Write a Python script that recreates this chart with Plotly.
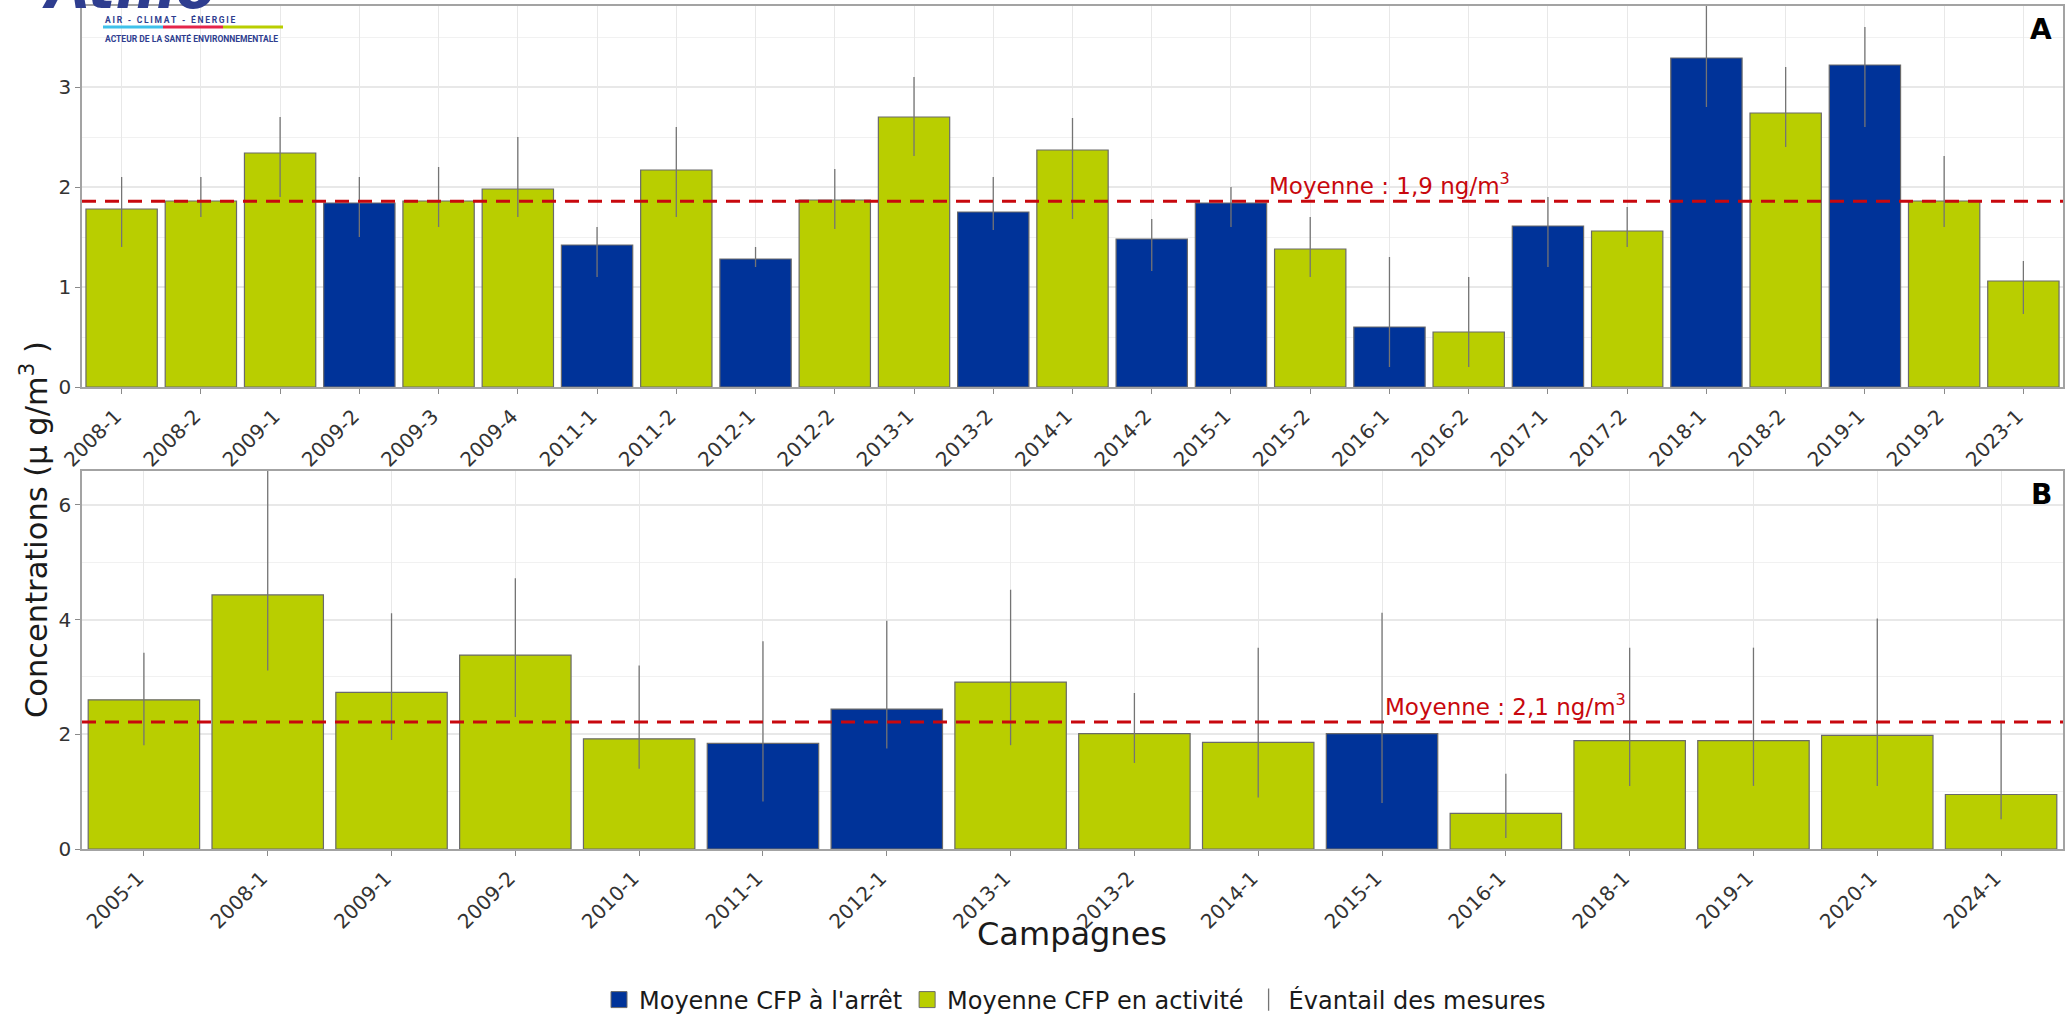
import numpy as np
import plotly.graph_objects as go

# ---- Panel A campaigns ----
campaigns_a = ["2008-1", "2008-2", "2009-1", "2009-2", "2009-3", "2009-4", "2011-1", "2011-2",
               "2012-1", "2012-2", "2013-1", "2013-2", "2014-1", "2014-2", "2015-1", "2015-2",
               "2016-1", "2016-2", "2017-1", "2017-2", "2018-1", "2018-2", "2019-1", "2019-2",
               "2023-1"]
status_a = ["activite", "activite", "activite", "arret", "activite", "activite", "arret", "activite",
            "arret", "activite", "activite", "arret", "activite", "arret", "arret", "activite",
            "arret", "activite", "arret", "activite", "arret", "activite", "arret", "activite",
            "activite"]
mean_a = [1.78, 1.86, 2.34, 1.84, 1.86, 1.98, 1.42, 2.17, 1.28, 1.87, 2.70, 1.75, 2.37,
          1.48, 1.84, 1.38, 0.60, 0.55, 1.61, 1.56, 3.29, 2.74, 3.22, 1.86, 1.06]
min_a = [1.40, 1.70, 1.90, 1.50, 1.60, 1.70, 1.10, 1.70, 1.20, 1.58, 2.31, 1.57, 1.68,
         1.16, 1.60, 1.10, 0.20, 0.20, 1.20, 1.40, 2.80, 2.40, 2.60, 1.60, 0.73]
max_a = [2.10, 2.10, 2.70, 2.10, 2.20, 2.50, 1.60, 2.60, 1.40, 2.18, 3.10, 2.10, 2.69,
         1.68, 2.00, 1.70, 1.30, 1.10, 1.90, 1.80, 3.90, 3.20, 3.60, 2.31, 1.26]

# ---- Panel B campaigns ----
campaigns_b = ["2005-1", "2008-1", "2009-1", "2009-2", "2010-1", "2011-1", "2012-1", "2013-1",
               "2013-2", "2014-1", "2015-1", "2016-1", "2018-1", "2019-1", "2020-1", "2024-1"]
status_b = ["activite", "activite", "activite", "activite", "activite", "arret", "arret", "activite",
            "activite", "activite", "arret", "activite", "activite", "activite", "activite", "activite"]
mean_b = [2.60, 4.43, 2.73, 3.38, 1.92, 1.84, 2.44, 2.91, 2.01, 1.86, 2.01, 0.62, 1.89, 1.89, 1.98, 0.95]
min_b = [1.81, 3.11, 1.90, 2.30, 1.40, 0.83, 1.75, 1.81, 1.50, 0.90, 0.80, 0.19, 1.10, 1.10, 1.10, 0.52]
max_b = [3.42, 6.80, 4.11, 4.72, 3.20, 3.62, 3.98, 4.52, 2.72, 3.51, 4.12, 1.31, 3.51, 3.51, 4.02, 2.22]

yticks_a = [0, 1, 2, 3]
yticks_b = [0, 2, 4, 6]
mean_label_a = "Moyenne : 1,9 ng/m<sup>3</sup>"
mean_label_b = "Moyenne : 2,1 ng/m<sup>3</sup>"

status_names = {"arret": "Moyenne CFP à l'arrêt", "activite": "Moyenne CFP en activité"}
range_name = "Évantail des mesures"

# ---- styling ----
W, H = 2071, 1017
FONT = "DejaVu Sans"
COL = {"arret": "#003399", "activite": "#B9CE00"}
BAR_EDGE = "#6a6a6a"
ERR_COL = "#747474"
MEAN_COL = "#C8080E"
GRID = "#e8e8e8"
GRID_MINOR = "#f1f1f1"
BORDER = "#a3a3a3"
TICK_TXT = "#333333"
LOGO = "#2E3D8F"


def px_x(p):
    return p / W


def px_y(p):
    return 1 - p / H


def spaced(text):
    # letter-spaced caption using thin spaces
    return "\u2009".join(text)


fig = go.Figure()


def add_panel(cats, status, means, lows, highs, xa, ya):
    fig.add_trace(go.Bar(
        x=cats, y=means, width=0.9,
        marker=dict(color=[COL[s] for s in status], line=dict(color=BAR_EDGE, width=1.2)),
        error_y=dict(type="data", symmetric=False,
                     array=[h - m for h, m in zip(highs, means)],
                     arrayminus=[m - l for m, l in zip(means, lows)],
                     width=0, color=ERR_COL, thickness=1.3),
        xaxis=xa, yaxis=ya, showlegend=False, hoverinfo="x+y",
    ))


add_panel(campaigns_a, status_a, mean_a, min_a, max_a, "x", "y")
add_panel(campaigns_b, status_b, mean_b, min_b, max_b, "x2", "y2")

# legend entries
for key in ["arret", "activite"]:
    fig.add_trace(go.Scatter(
        x=[None], y=[None], mode="markers", name=status_names[key],
        marker=dict(symbol="square", size=16, color=COL[key], line=dict(color=BAR_EDGE, width=1)),
        xaxis="x", yaxis="y",
    ))
fig.add_trace(go.Scatter(
    x=[None], y=[None], mode="markers", name=range_name,
    marker=dict(symbol="line-ns-open", size=16, color=ERR_COL, line=dict(width=1.3, color=ERR_COL)),
    xaxis="x", yaxis="y",
))

# overall means drawn as dashed lines
avg_a = float(np.mean(mean_a))
avg_b = float(np.mean(mean_b))
for avg, xa, ya in [(avg_a, "x", "y"), (avg_b, "x2", "y2")]:
    fig.add_shape(type="line", xref=f"{xa} domain", yref=ya, x0=0, x1=1, y0=avg, y1=avg,
                  line=dict(color=MEAN_COL, width=3, dash="14px,9px"), layer="above")

annotations = [
    dict(x="2016-1", y=avg_a, xref="x", yref="y", text=mean_label_a, showarrow=False,
         yanchor="bottom", yshift=0, font=dict(family=FONT, size=23, color=MEAN_COL)),
    dict(x="2016-1", y=avg_b, xref="x2", yref="y2", text=mean_label_b, showarrow=False,
         yanchor="bottom", yshift=0, font=dict(family=FONT, size=23, color=MEAN_COL)),
    dict(x=px_x(2054), y=px_y(11), xref="paper", yref="paper", text="<b>A</b>", showarrow=False,
         xanchor="right", yanchor="top", font=dict(family=FONT, size=28, color="#000000")),
    dict(x=px_x(2054), y=px_y(476), xref="paper", yref="paper", text="<b>B</b>", showarrow=False,
         xanchor="right", yanchor="top", font=dict(family=FONT, size=28, color="#000000")),
    dict(x=px_x(34), y=px_y(530), xref="paper", yref="paper",
         text="Concentrations (µ g/m<sup>3</sup> )", textangle=-90, showarrow=False,
         xanchor="center", yanchor="middle", font=dict(family=FONT, size=30.5, color="#1a1a1a")),
    dict(x=px_x(1072), y=px_y(934), xref="paper", yref="paper", text="Campagnes", showarrow=False,
         xanchor="center", yanchor="middle", font=dict(family=FONT, size=32, color="#1a1a1a")),
    # logo
    dict(x=px_x(40), y=px_y(24), xref="paper", yref="paper", text="<b><i>Atmo</i></b>",
         showarrow=False, xanchor="left", yanchor="bottom",
         font=dict(family=FONT, size=58, color=LOGO)),
    dict(x=px_x(103), y=px_y(19), xref="paper", yref="paper",
         text="<b>" + spaced("AIR - CLIMAT - ÉNERGIE") + "</b>",
         showarrow=False, xanchor="left", yanchor="middle",
         font=dict(family="Roboto", size=8.5, color=LOGO)),
    dict(x=px_x(103), y=px_y(39), xref="paper", yref="paper",
         text="<b>ACTEUR DE LA SANTÉ ENVIRONNEMENTALE</b>",
         showarrow=False, xanchor="left", yanchor="middle",
         font=dict(family="Roboto", size=8.5, color=LOGO)),
]

for x0, x1, c in [(103, 163, "#3FC1EA"), (163, 223, "#E5254A"), (223, 283, "#B9CE00")]:
    fig.add_shape(type="rect", xref="paper", yref="paper",
                  x0=px_x(x0), x1=px_x(x1), y0=px_y(25.5), y1=px_y(28.5),
                  fillcolor=c, line=dict(width=0), layer="above")

x_dom = [px_x(82), px_x(2063)]


def xaxis_cfg(cats, anchor):
    return dict(domain=x_dom, anchor=anchor, type="category", automargin=False,
                categoryorder="array", categoryarray=cats,
                range=[-0.5, len(cats) - 0.5],
                showgrid=True, gridcolor=GRID, gridwidth=1,
                showline=True, mirror=True, linecolor=BORDER, linewidth=1.5,
                ticks="outside", ticklen=5, tickcolor="#8a8a8a", tickwidth=1,
                tickangle=-45, ticklabelshift=-6, ticklabelstandoff=3,
                tickfont=dict(family=FONT, size=20, color=TICK_TXT),
                fixedrange=True)


def yaxis_cfg(dom, rng, ticks, minor_step, anchor):
    return dict(domain=dom, anchor=anchor, range=rng, tickmode="array", tickvals=ticks,
                automargin=False,
                showgrid=True, gridcolor=GRID, gridwidth=1.5, zeroline=False,
                minor=dict(dtick=minor_step, tick0=0, showgrid=True, gridcolor=GRID_MINOR,
                           gridwidth=1, ticks=""),
                showline=True, mirror=True, linecolor=BORDER, linewidth=1.5,
                ticks="outside", ticklen=5, tickcolor="#8a8a8a", tickwidth=1,
                tickfont=dict(family=FONT, size=20, color=TICK_TXT),
                fixedrange=True)


fig.update_layout(
    width=W, height=H, autosize=False,
    margin=dict(l=0, r=0, t=0, b=0, autoexpand=False),
    paper_bgcolor="white", plot_bgcolor="white",
    font=dict(family=FONT, color="#1a1a1a"),
    barmode="overlay",
    xaxis=xaxis_cfg(campaigns_a, "y"),
    yaxis=yaxis_cfg([px_y(387), px_y(6)], [0, 3.81], yticks_a, 0.5, "x"),
    xaxis2=xaxis_cfg(campaigns_b, "y2"),
    yaxis2=yaxis_cfg([px_y(849), px_y(471)], [0, 6.59], yticks_b, 1, "x2"),
    showlegend=True,
    legend=dict(orientation="h", x=px_x(1075), xanchor="center", y=px_y(1000), yanchor="middle",
                font=dict(family=FONT, size=24, color="#1a1a1a"), bgcolor="rgba(0,0,0,0)",
                itemclick=False, itemdoubleclick=False),
    annotations=annotations,
)

fig.write_html("out.html")
